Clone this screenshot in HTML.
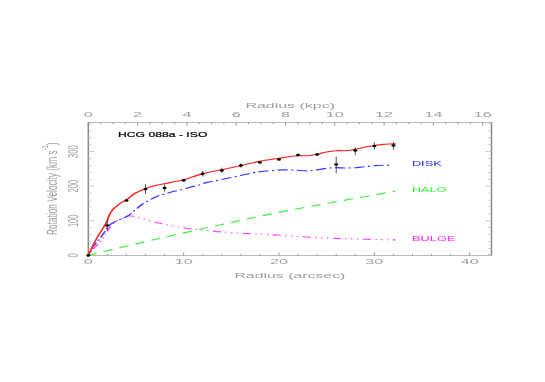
<!DOCTYPE html>
<html><head><meta charset="utf-8"><title>HCG 088a - ISO</title>
<style>html,body{margin:0;padding:0;background:#fff;}svg{display:block;will-change:transform;}text{font-family:"Liberation Sans",sans-serif;}</style>
</head><body>
<svg width="545" height="382" viewBox="0 0 545 382">
<rect width="545" height="382" fill="#fff"/>
<g transform="scale(2,1)">
<path d="M44.15 122.60H245.75M44.15 255.40H245.75" fill="none" stroke="#a4a4a4" stroke-width="0.9"/>
<path d="M44.15 122.20V255.80M245.75 122.20V255.80" fill="none" stroke="#868686" stroke-width="0.72"/>
<path d="M44.15 255.40v-3.1M53.69 255.40v-1.55M63.22 255.40v-1.55M72.75 255.40v-1.55M82.29 255.40v-1.55M91.82 255.40v-3.1M101.36 255.40v-1.55M110.90 255.40v-1.55M120.43 255.40v-1.55M129.97 255.40v-1.55M139.50 255.40v-3.1M149.03 255.40v-1.55M158.57 255.40v-1.55M168.10 255.40v-1.55M177.64 255.40v-1.55M187.18 255.40v-3.1M196.71 255.40v-1.55M206.25 255.40v-1.55M215.78 255.40v-1.55M225.31 255.40v-1.55M234.85 255.40v-3.1M244.39 255.40v-1.55M44.15 122.60v3.1M50.31 122.60v1.55M56.47 122.60v1.55M62.64 122.60v1.55M68.80 122.60v3.1M74.96 122.60v1.55M81.12 122.60v1.55M87.29 122.60v1.55M93.45 122.60v3.1M99.61 122.60v1.55M105.78 122.60v1.55M111.94 122.60v1.55M118.10 122.60v3.1M124.26 122.60v1.55M130.42 122.60v1.55M136.59 122.60v1.55M142.75 122.60v3.1M148.91 122.60v1.55M155.07 122.60v1.55M161.24 122.60v1.55M167.40 122.60v3.1M173.56 122.60v1.55M179.72 122.60v1.55M185.89 122.60v1.55M192.05 122.60v3.1M198.21 122.60v1.55M204.38 122.60v1.55M210.54 122.60v1.55M216.70 122.60v3.1M222.86 122.60v1.55M229.03 122.60v1.55M235.19 122.60v1.55M241.35 122.60v3.1" fill="none" stroke="#787878" stroke-width="0.5"/>
<path d="M44.15 255.40h3.1M245.75 255.40h-3.1M44.15 248.48h1.55M245.75 248.48h-1.55M44.15 241.56h1.55M245.75 241.56h-1.55M44.15 234.64h1.55M245.75 234.64h-1.55M44.15 227.72h1.55M245.75 227.72h-1.55M44.15 220.80h3.1M245.75 220.80h-3.1M44.15 213.88h1.55M245.75 213.88h-1.55M44.15 206.96h1.55M245.75 206.96h-1.55M44.15 200.04h1.55M245.75 200.04h-1.55M44.15 193.12h1.55M245.75 193.12h-1.55M44.15 186.20h3.1M245.75 186.20h-3.1M44.15 179.28h1.55M245.75 179.28h-1.55M44.15 172.36h1.55M245.75 172.36h-1.55M44.15 165.44h1.55M245.75 165.44h-1.55M44.15 158.52h1.55M245.75 158.52h-1.55M44.15 151.60h3.1M245.75 151.60h-3.1M44.15 144.68h1.55M245.75 144.68h-1.55M44.15 137.76h1.55M245.75 137.76h-1.55M44.15 130.84h1.55M245.75 130.84h-1.55M44.15 123.92h1.55M245.75 123.92h-1.55" fill="none" stroke="#bcbcbc" stroke-width="0.8"/>
<text x="44.15" y="264.50" font-size="8.0" fill="#9c9c9c" text-anchor="middle" textLength="4.50" lengthAdjust="spacingAndGlyphs">0</text>
<text x="91.82" y="264.50" font-size="8.0" fill="#9c9c9c" text-anchor="middle" textLength="9.00" lengthAdjust="spacingAndGlyphs">10</text>
<text x="139.50" y="264.50" font-size="8.0" fill="#9c9c9c" text-anchor="middle" textLength="9.00" lengthAdjust="spacingAndGlyphs">20</text>
<text x="187.18" y="264.50" font-size="8.0" fill="#9c9c9c" text-anchor="middle" textLength="9.00" lengthAdjust="spacingAndGlyphs">30</text>
<text x="234.85" y="264.50" font-size="8.0" fill="#9c9c9c" text-anchor="middle" textLength="9.00" lengthAdjust="spacingAndGlyphs">40</text>
<text x="44.15" y="117.40" font-size="8.0" fill="#9c9c9c" text-anchor="middle" textLength="4.50" lengthAdjust="spacingAndGlyphs">0</text>
<text x="68.80" y="117.40" font-size="8.0" fill="#9c9c9c" text-anchor="middle" textLength="4.50" lengthAdjust="spacingAndGlyphs">2</text>
<text x="93.45" y="117.40" font-size="8.0" fill="#9c9c9c" text-anchor="middle" textLength="4.50" lengthAdjust="spacingAndGlyphs">4</text>
<text x="118.10" y="117.40" font-size="8.0" fill="#9c9c9c" text-anchor="middle" textLength="4.50" lengthAdjust="spacingAndGlyphs">6</text>
<text x="142.75" y="117.40" font-size="8.0" fill="#9c9c9c" text-anchor="middle" textLength="4.50" lengthAdjust="spacingAndGlyphs">8</text>
<text x="167.40" y="117.40" font-size="8.0" fill="#9c9c9c" text-anchor="middle" textLength="9.00" lengthAdjust="spacingAndGlyphs">10</text>
<text x="192.05" y="117.40" font-size="8.0" fill="#9c9c9c" text-anchor="middle" textLength="9.00" lengthAdjust="spacingAndGlyphs">12</text>
<text x="216.70" y="117.40" font-size="8.0" fill="#9c9c9c" text-anchor="middle" textLength="9.00" lengthAdjust="spacingAndGlyphs">14</text>
<text x="241.35" y="117.40" font-size="8.0" fill="#9c9c9c" text-anchor="middle" textLength="9.00" lengthAdjust="spacingAndGlyphs">16</text>
<text x="144.95" y="278.30" font-size="7.8" fill="#9c9c9c" text-anchor="middle" textLength="55.50" lengthAdjust="spacingAndGlyphs">Radius (arcsec)</text>
<text x="145.10" y="108.20" font-size="7.6" fill="#9c9c9c" text-anchor="middle" textLength="44.80" lengthAdjust="spacingAndGlyphs">Radius (kpc)</text>
<text transform="translate(38.85,255.40) rotate(-90)" font-size="7.5" fill="#9c9c9c" text-anchor="middle" textLength="4.20" lengthAdjust="spacingAndGlyphs">0</text>
<text transform="translate(38.85,220.80) rotate(-90)" font-size="7.5" fill="#9c9c9c" text-anchor="middle" textLength="12.60" lengthAdjust="spacingAndGlyphs">100</text>
<text transform="translate(38.85,186.20) rotate(-90)" font-size="7.5" fill="#9c9c9c" text-anchor="middle" textLength="12.60" lengthAdjust="spacingAndGlyphs">200</text>
<text transform="translate(38.85,151.60) rotate(-90)" font-size="7.5" fill="#9c9c9c" text-anchor="middle" textLength="12.60" lengthAdjust="spacingAndGlyphs">300</text>
<text transform="translate(28.35,188.75) rotate(-90)" font-size="7.0" fill="#9c9c9c" text-anchor="middle" textLength="92.50" lengthAdjust="spacingAndGlyphs">Rotation Velocity (km s<tspan dy="-4.2" font-size="4.8">-1</tspan><tspan dy="4.2">)</tspan></text>
<text x="58.95" y="137.20" font-size="7.9" fill="#000" text-anchor="start" textLength="44.75" lengthAdjust="spacingAndGlyphs" stroke="#000" stroke-width="0.22">HCG 088a - ISO</text>
<text x="205.95" y="165.90" font-size="8.0" fill="#2828ff" text-anchor="start" textLength="14.90" lengthAdjust="spacingAndGlyphs">DISK</text>
<text x="205.95" y="192.00" font-size="8.0" fill="#28f828" text-anchor="start" textLength="17.15" lengthAdjust="spacingAndGlyphs">HALO</text>
<text x="205.95" y="240.80" font-size="8.0" fill="#ff28ff" text-anchor="start" textLength="21.80" lengthAdjust="spacingAndGlyphs">BULGE</text>
</g>
<g transform="scale(1.5,1)">
<path d="M58.87 255.40C65.02 253.18 87.83 244.97 95.80 242.10C103.77 239.23 98.74 240.88 106.67 238.20C114.59 235.52 131.11 230.02 143.33 226.00C155.56 221.98 167.00 218.02 180.00 214.10C193.00 210.18 207.39 206.32 221.33 202.50C235.28 198.68 256.61 193.08 263.67 191.20" fill="none" stroke="#44f044" stroke-width="1.15" stroke-dasharray="6.40 4.82" stroke-dashoffset="0.44"/>
<path d="M58.87 255.40C59.43 254.28 61.00 250.87 62.27 248.70C63.53 246.53 65.24 244.50 66.47 242.40C67.69 240.30 68.64 238.20 69.60 236.10C70.56 234.00 71.32 231.77 72.20 229.80C73.08 227.83 73.81 225.87 74.87 224.30C75.92 222.73 76.97 221.70 78.53 220.40C80.10 219.10 82.97 217.28 84.27 216.50C85.57 215.72 85.46 215.70 86.33 215.70C87.21 215.70 88.13 216.03 89.53 216.50C90.93 216.97 91.88 217.37 94.73 218.50C97.59 219.63 102.93 221.98 106.67 223.30C110.40 224.62 113.64 225.47 117.13 226.40C120.62 227.33 124.11 228.22 127.60 228.90C131.09 229.58 134.58 229.98 138.07 230.50C141.56 231.02 144.69 231.53 148.53 232.00C152.38 232.47 156.94 232.93 161.13 233.30C165.32 233.67 169.48 233.88 173.67 234.20C177.86 234.52 181.72 234.78 186.27 235.20C190.81 235.62 195.00 236.18 200.93 236.70C206.87 237.22 214.89 237.88 221.87 238.30C228.84 238.72 235.83 238.93 242.80 239.20C249.77 239.47 260.19 239.78 263.67 239.90" fill="none" stroke="#ff40ff" stroke-width="1.15" stroke-dasharray="5.40 2.96 0.94 2.96 0.94 2.96 0.94 2.96" stroke-dashoffset="-7.25"/>
<path d="M58.87 255.40C59.34 254.02 60.64 249.53 61.73 247.10C62.82 244.67 64.27 242.88 65.40 240.80C66.53 238.72 67.48 236.82 68.53 234.60C69.59 232.38 70.77 229.33 71.73 227.50C72.70 225.67 73.20 224.78 74.33 223.60C75.47 222.42 76.78 221.62 78.53 220.40C80.29 219.18 82.99 217.97 84.87 216.30C86.74 214.63 88.17 212.37 89.80 210.40C91.43 208.43 93.03 206.22 94.67 204.50C96.30 202.78 97.97 201.45 99.60 200.10C101.23 198.75 102.84 197.38 104.47 196.40C106.09 195.42 107.70 194.93 109.33 194.20C110.97 193.47 112.63 192.65 114.27 192.00C115.90 191.35 117.50 190.90 119.13 190.30C120.77 189.70 122.43 189.05 124.07 188.40C125.70 187.75 127.39 187.02 128.93 186.40C130.48 185.78 131.82 185.37 133.33 184.70C134.84 184.03 135.47 183.30 138.00 182.40C140.53 181.50 144.68 180.50 148.53 179.30C152.39 178.10 157.29 176.42 161.13 175.20C164.98 173.98 168.46 172.73 171.60 172.00C174.74 171.27 177.20 171.15 180.00 170.80C182.80 170.45 185.61 170.00 188.40 169.90C191.19 169.80 193.94 170.05 196.73 170.20C199.52 170.35 202.69 170.85 205.13 170.80C207.58 170.75 209.31 170.32 211.40 169.90C213.49 169.48 215.58 168.67 217.67 168.30C219.76 167.93 221.84 167.75 223.93 167.70C226.02 167.65 228.11 168.00 230.20 168.00C232.29 168.00 234.37 167.92 236.47 167.70C238.57 167.48 240.70 167.02 242.80 166.70C244.90 166.38 246.98 166.05 249.07 165.80C251.16 165.55 253.24 165.25 255.33 165.20C257.42 165.15 260.56 165.45 261.60 165.50" fill="none" stroke="#3838ff" stroke-width="1.15" stroke-dasharray="6.85 2.31 1.41 2.31" stroke-dashoffset="5.94"/>
<path d="M58.87 255.40C59.08 254.75 59.74 252.67 60.13 251.50C60.52 250.33 60.86 249.53 61.20 248.40C61.54 247.27 61.68 246.28 62.20 244.70C62.72 243.12 63.63 240.73 64.33 238.90C65.03 237.07 65.70 235.43 66.40 233.70C67.10 231.97 67.89 230.07 68.53 228.50C69.18 226.93 69.74 225.70 70.27 224.30C70.79 222.90 71.32 221.32 71.67 220.10C72.01 218.88 71.99 218.22 72.33 217.00C72.68 215.78 73.21 214.12 73.73 212.80C74.26 211.48 74.71 210.32 75.47 209.10C76.22 207.88 77.33 206.63 78.27 205.50C79.20 204.37 80.07 203.23 81.07 202.30C82.07 201.37 82.81 201.37 84.27 199.90C85.72 198.43 87.66 195.42 89.80 193.50C91.94 191.58 95.01 189.67 97.13 188.40C99.26 187.13 100.49 186.68 102.53 185.90C104.58 185.12 107.31 184.35 109.40 183.70C111.49 183.05 112.96 182.62 115.07 182.00C117.18 181.38 118.76 181.35 122.07 180.00C125.38 178.65 130.69 175.60 134.93 173.90C139.18 172.20 143.34 171.15 147.53 169.80C151.72 168.45 155.88 167.20 160.07 165.80C164.26 164.40 168.30 162.67 172.67 161.40C177.03 160.13 182.96 158.98 186.27 158.20C189.58 157.42 190.44 157.12 192.53 156.70C194.62 156.28 196.70 155.87 198.80 155.70C200.90 155.53 203.03 155.95 205.13 155.70C207.23 155.45 209.31 154.82 211.40 154.20C213.49 153.58 215.58 152.58 217.67 152.00C219.76 151.42 221.84 150.92 223.93 150.70C226.02 150.48 228.11 150.90 230.20 150.70C232.29 150.50 234.37 150.07 236.47 149.50C238.57 148.93 240.70 147.93 242.80 147.30C244.90 146.67 246.98 146.18 249.07 145.70C251.16 145.22 253.51 144.68 255.33 144.40C257.16 144.12 258.58 144.08 260.00 144.00C261.42 143.92 263.22 143.92 263.87 143.90" fill="none" stroke="#ff2020" stroke-width="1.15"/>
</g>
<ellipse cx="88.30" cy="255.40" rx="2.0" ry="1.25" fill="#000"/>
<path d="M107.37 219.60V230.60" stroke="#2a2a2a" stroke-width="0.8" fill="none"/>
<ellipse cx="107.37" cy="225.40" rx="2.0" ry="1.25" fill="#000"/>
<ellipse cx="126.44" cy="200.50" rx="2.0" ry="1.25" fill="#000"/>
<path d="M145.51 184.20V193.90" stroke="#2a2a2a" stroke-width="0.8" fill="none"/>
<ellipse cx="145.51" cy="189.10" rx="2.0" ry="1.25" fill="#000"/>
<path d="M164.58 184.40V191.70" stroke="#2a2a2a" stroke-width="0.8" fill="none"/>
<ellipse cx="164.58" cy="187.90" rx="2.0" ry="1.25" fill="#000"/>
<path d="M183.65 178.90V181.70" stroke="#2a2a2a" stroke-width="0.8" fill="none"/>
<ellipse cx="183.65" cy="180.30" rx="2.0" ry="1.25" fill="#000"/>
<path d="M202.72 171.00V176.50" stroke="#2a2a2a" stroke-width="0.8" fill="none"/>
<ellipse cx="202.72" cy="173.70" rx="2.0" ry="1.25" fill="#000"/>
<path d="M221.79 167.70V172.80" stroke="#2a2a2a" stroke-width="0.8" fill="none"/>
<ellipse cx="221.79" cy="170.40" rx="2.0" ry="1.25" fill="#000"/>
<path d="M240.86 163.30V167.70" stroke="#2a2a2a" stroke-width="0.8" fill="none"/>
<ellipse cx="240.86" cy="165.50" rx="2.0" ry="1.25" fill="#000"/>
<ellipse cx="259.93" cy="162.60" rx="2.0" ry="1.25" fill="#000"/>
<ellipse cx="279.00" cy="159.50" rx="2.0" ry="1.25" fill="#000"/>
<ellipse cx="298.07" cy="155.10" rx="2.0" ry="1.25" fill="#000"/>
<path d="M317.14 153.20V155.80" stroke="#2a2a2a" stroke-width="0.8" fill="none"/>
<ellipse cx="317.14" cy="154.50" rx="2.0" ry="1.25" fill="#000"/>
<path d="M336.21 156.70V173.30" stroke="#2a2a2a" stroke-width="0.8" fill="none"/>
<ellipse cx="336.21" cy="164.50" rx="2.0" ry="1.25" fill="#000"/>
<path d="M355.28 147.30V155.00" stroke="#2a2a2a" stroke-width="0.8" fill="none"/>
<ellipse cx="355.28" cy="150.60" rx="2.0" ry="1.25" fill="#000"/>
<path d="M374.35 142.20V149.90" stroke="#2a2a2a" stroke-width="0.8" fill="none"/>
<ellipse cx="374.35" cy="145.90" rx="2.0" ry="1.25" fill="#000"/>
<path d="M393.42 142.20V149.90" stroke="#2a2a2a" stroke-width="0.8" fill="none"/>
<ellipse cx="393.42" cy="145.40" rx="2.0" ry="1.25" fill="#000"/>
</svg></body></html>
